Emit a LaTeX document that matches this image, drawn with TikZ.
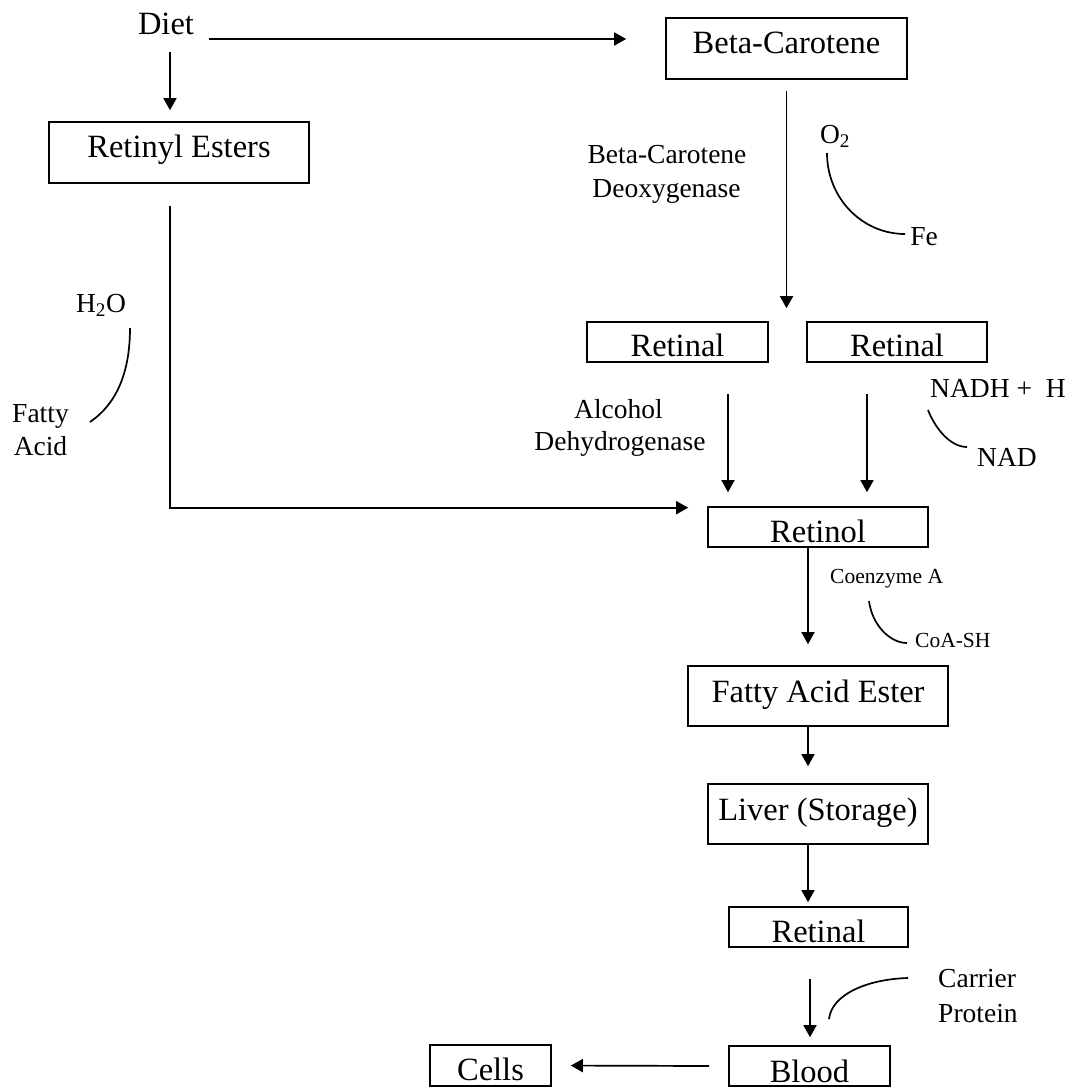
\documentclass[tikz,border=0pt]{standalone}
\usepackage{fontspec}
\setmainfont{Liberation Serif}
\usetikzlibrary{arrows.meta}
\begin{document}
\begin{tikzpicture}[x=1pt,y=-1pt,
  box/.style={draw, line width=1.6pt, inner sep=0pt, text depth=0pt,
    font=\fontsize{32.5}{36}\selectfont},
  maintxt/.style={inner sep=0pt, anchor=base, font=\fontsize{32.5}{36}\selectfont},
  lbl/.style={inner sep=0pt, anchor=base, font=\fontsize{27.5}{31}\selectfont},
  small/.style={inner sep=0pt, anchor=base west, font=\fontsize{21.5}{24}\selectfont},
  arr/.style={-{Triangle[length=12pt,width=13pt]}, line width=1.7pt},
  crv/.style={line width=1.7pt}]
\useasboundingbox (0,0) rectangle (1068,1087);

% boxes
\node[box, minimum width=241pt, minimum height=61pt, text height=9pt]  (bc)   at (786.5,48.5) {Beta-Carotene};
\node[box, minimum width=260pt, minimum height=61pt, text height=9pt]  (re)   at (179,152.5)  {Retinyl Esters};
\node[box, minimum width=181pt, minimum height=40pt, text height=28pt] (ret1) at (677.5,342)  {Retinal};
\node[box, minimum width=180pt, minimum height=40pt, text height=28pt] (ret2) at (897,342)    {Retinal};
\node[box, minimum width=220pt, minimum height=40pt, text height=30pt] (rol)  at (818,527)    {Retinol};
\node[box, minimum width=260pt, minimum height=60pt, text height=12pt] (fae)  at (818,696)    {Fatty Acid Ester};
\node[box, minimum width=220pt, minimum height=60pt, text height=12pt] (liv)  at (818,814)    {Liver (Storage)};
\node[box, minimum width=179pt, minimum height=40pt, text height=30pt] (ret3) at (818.5,927)  {Retinal};
\node[box, minimum width=161pt, minimum height=40pt, text height=32pt] (blood) at (809.5,1066) {Blood};
\node[box, minimum width=121pt, minimum height=41pt, text height=29pt] (cells) at (490.5,1065.5) {Cells};

% plain texts
\node[maintxt] (diet) at (166,34) {Diet};
\node[lbl] (bcd1) at (667,163) {Beta-Carotene};
\node[lbl] (bcd2) at (666.5,197) {Deoxygenase};
\node[lbl] (o2) at (835,143) {O\textsubscript{2}};
\node[lbl] (fe) at (924,245) {Fe};
\node[lbl] (h2o) at (101,312) {H\textsubscript{2}O};
\node[lbl] (fatty) at (40.5,422) {Fatty};
\node[lbl] (acid) at (40.5,455) {Acid};
\node[lbl] (alc1) at (618.5,418) {Alcohol};
\node[lbl] (alc2) at (620,450) {Dehydrogenase};
\node[lbl, anchor=base west] (nadh) at (930,397) {NADH +\ \ H};
\node[lbl, anchor=base west] (nad) at (977,466) {NAD};
\node[small] (coa) at (830,583) {Coenzyme A};
\node[small] (coash) at (915,647) {CoA-SH};
\node[lbl, anchor=base west] (carrier) at (938,987) {Carrier};
\node[lbl, anchor=base west] (protein) at (938,1022) {Protein};

% connectors
\draw[arr, shorten >=39pt] ([xshift=15pt,yshift=-5pt]diet.base east) coordinate (d1) -- (bc.west |- d1);
\draw[arr, shorten >=11pt] ([xshift=4pt,yshift=-17pt]diet.south) coordinate (d2) -- (d2 |- re.north);
\draw[arr, shorten >=19pt] ([xshift=-9pt,yshift=-22pt]re.south) |- ([yshift=-1.5pt]rol.north west);
\draw[arr, shorten >=13pt] ([yshift=-11pt]bc.south) -- (bc.south |- ret1.north);
\draw[arr, shorten >=14pt] ([xshift=50.5pt,yshift=-31pt]ret1.south) coordinate (r1) -- (r1 |- rol.north);
\draw[arr, shorten >=14pt] ([xshift=-30pt,yshift=-31pt]ret2.south) coordinate (r2) -- (r2 |- rol.north);
\draw[arr, shorten >=21pt] ([xshift=-10pt]rol.south) coordinate (r3) -- (r3 |- fae.north);
\draw[arr, shorten >=17pt] ([xshift=-10pt]fae.south) coordinate (r4) -- (r4 |- liv.north);
\draw[arr, shorten >=4pt]  ([xshift=-10pt]liv.south) coordinate (r5) -- (r5 |- ret3.north);
\draw[arr, shorten >=8pt]  ([xshift=-8.5pt,yshift=-31pt]ret3.south) coordinate (r6) -- (r6 |- blood.north);
\draw[arr, shorten >=19pt] ([xshift=-19pt]blood.west) -- (cells.east);

% side-reaction arcs
\draw[crv] (130,328) .. controls (130,375) and (115,405) .. (90,422);
\draw[crv] (827,153) .. controls (827,198) and (862,234) .. (905,234);
\draw[crv] (928,410) .. controls (935,428) and (950,447) .. (967,447);
\draw[crv] (869,601) .. controls (872,625) and (890,643) .. (907,643);
\draw[crv] (829,1019) .. controls (832,993) and (870,979) .. (908,978);
\end{tikzpicture}
\end{document}
